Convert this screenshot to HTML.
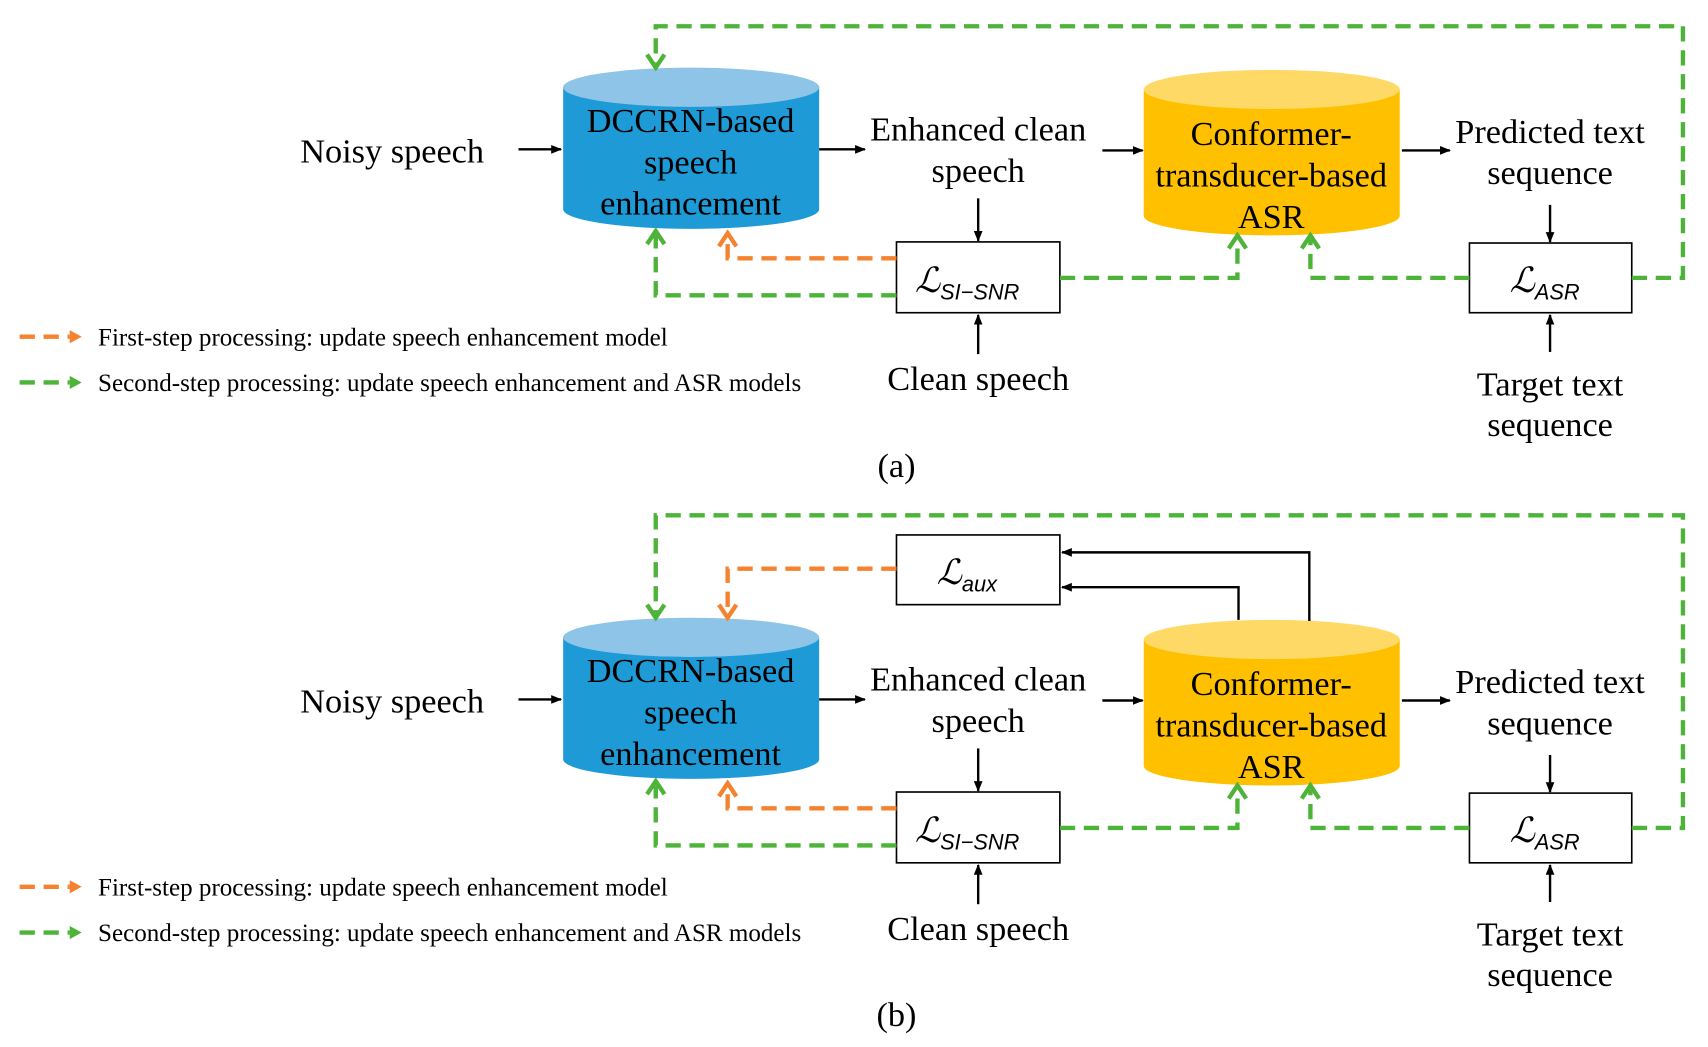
<!DOCTYPE html>
<html><head><meta charset="utf-8"><style>
html,body{margin:0;padding:0;background:#fff}
svg{display:block}
text{font-family:"Liberation Serif",serif;fill:#000}
.t{font-size:31.5px;text-anchor:middle}
.l{font-size:23px}
.m{font-size:32px;font-style:italic}
.s{font-family:"Liberation Sans",sans-serif;font-size:20px;font-style:italic}
.g{fill:none;stroke:#4DB339;stroke-width:4;stroke-dasharray:14 8}
.o{fill:none;stroke:#F5822E;stroke-width:4;stroke-dasharray:14 8}
.gh{fill:none;stroke:#4DB339;stroke-width:4}
.oh{fill:none;stroke:#F5822E;stroke-width:4}
.k{stroke:#000;stroke-width:2.2;fill:none}
</style></head><body>
<svg width="1708" height="1047" viewBox="0 0 1568 961" xmlns="http://www.w3.org/2000/svg">
<defs>
<marker id="a" markerWidth="10" markerHeight="10" refX="9" refY="5" orient="auto" markerUnits="userSpaceOnUse"><path d="M0,1 L10,5 L0,9 Z" fill="#000"/></marker>
</defs>
<g id="base">
<text class="t" x="360" y="149">Noisy speech</text>
<line class="k" x1="476" y1="137" x2="515" y2="137" marker-end="url(#a)"/>
<path d="M517,80 L517,192 A117.5,18 0 0 0 752,192 L752,80 Z" fill="#1E9AD6"/>
<ellipse cx="634.5" cy="80" rx="117.5" ry="18" fill="#8DC4E8"/>
<text class="t" x="634" y="121">DCCRN-based</text>
<text class="t" x="634" y="159">speech</text>
<text class="t" x="634" y="197">enhancement</text>
<line class="k" x1="752" y1="137" x2="794" y2="137" marker-end="url(#a)"/>
<text class="t" x="898" y="129">Enhanced clean</text>
<text class="t" x="898" y="167">speech</text>
<line class="k" x1="898" y1="182" x2="898" y2="221" marker-end="url(#a)"/>
<rect x="823" y="222" width="150" height="65" fill="#fff" stroke="#000" stroke-width="1.5"/>
<text x="840" y="268"><tspan class="m">ℒ</tspan><tspan class="s" dy="7">SI−SNR</tspan></text>
<line class="k" x1="898" y1="325" x2="898" y2="289" marker-end="url(#a)"/>
<text class="t" x="898" y="358">Clean speech</text>
<line class="k" x1="1012" y1="138" x2="1049" y2="138" marker-end="url(#a)"/>
<path d="M1050,82 L1050,198 A117.5,18 0 0 0 1285,198 L1285,82 Z" fill="#FFC000"/>
<ellipse cx="1167.5" cy="82" rx="117.5" ry="18" fill="#FFD966"/>
<text class="t" x="1167" y="133">Conformer-</text>
<text class="t" x="1167" y="171">transducer-based</text>
<text class="t" x="1167" y="209">ASR</text>
<line class="k" x1="1287" y1="138" x2="1331" y2="138" marker-end="url(#a)"/>
<text class="t" x="1423" y="131">Predicted text</text>
<text class="t" x="1423" y="169">sequence</text>
<line class="k" x1="1423" y1="188" x2="1423" y2="222" marker-end="url(#a)"/>
<rect x="1349" y="223" width="149" height="64" fill="#fff" stroke="#000" stroke-width="1.5"/>
<text x="1386" y="268"><tspan class="m">ℒ</tspan><tspan class="s" dy="7">ASR</tspan></text>
<line class="k" x1="1423" y1="323" x2="1423" y2="289" marker-end="url(#a)"/>
<text class="t" x="1423" y="363">Target text</text>
<text class="t" x="1423" y="400">sequence</text>
<path class="g" d="M823,271 H602 V216"/>
<path class="gh" d="M594,224 L602,212 L610,224"/>
<path class="o" d="M823,237 H668 V218"/>
<path class="oh" d="M660,226 L668,214 L676,226"/>
<path class="g" d="M973,255 H1136 V220"/>
<path class="gh" d="M1128,228 L1136,216 L1144,228"/>
<path class="g" d="M1349,255 H1203 V220"/>
<path class="gh" d="M1195,228 L1203,216 L1211,228"/>
<line class="o" x1="18" y1="309" x2="64" y2="309"/>
<path d="M64,303 L75,309 L64,315 Z" fill="#F5822E"/>
<text class="l" x="90" y="317">First-step processing: update speech enhancement model</text>
<line class="g" x1="18" y1="351" x2="64" y2="351"/>
<path d="M64,345 L75,351 L64,357 Z" fill="#4DB339"/>
<text class="l" x="90" y="359">Second-step processing: update speech enhancement and ASR models</text>
</g>
<path class="g" d="M1498,255 H1545 V24 H602 V58"/>
<path class="gh" d="M594,50 L602,62 L610,50"/>
<text class="t" x="823" y="438">(a)</text>
<use href="#base" transform="translate(0,505)"/>
<path class="g" d="M1498,760 H1545 V473 H602 V563"/>
<path class="gh" d="M594,555 L602,567 L610,555"/>
<rect x="823" y="491" width="150" height="64" fill="#fff" stroke="#000" stroke-width="1.5"/>
<text x="860" y="536"><tspan class="m">ℒ</tspan><tspan class="s" dy="7">aux</tspan></text>
<path class="o" d="M823,522 H668 V563"/>
<path class="oh" d="M660,555 L668,567 L676,555"/>
<path class="k" d="M1137,569 V539 H975" marker-end="url(#a)"/>
<path class="k" d="M1202,570 V507 H975" marker-end="url(#a)"/>
<text class="t" x="823" y="942">(b)</text>
</svg>
</body></html>
